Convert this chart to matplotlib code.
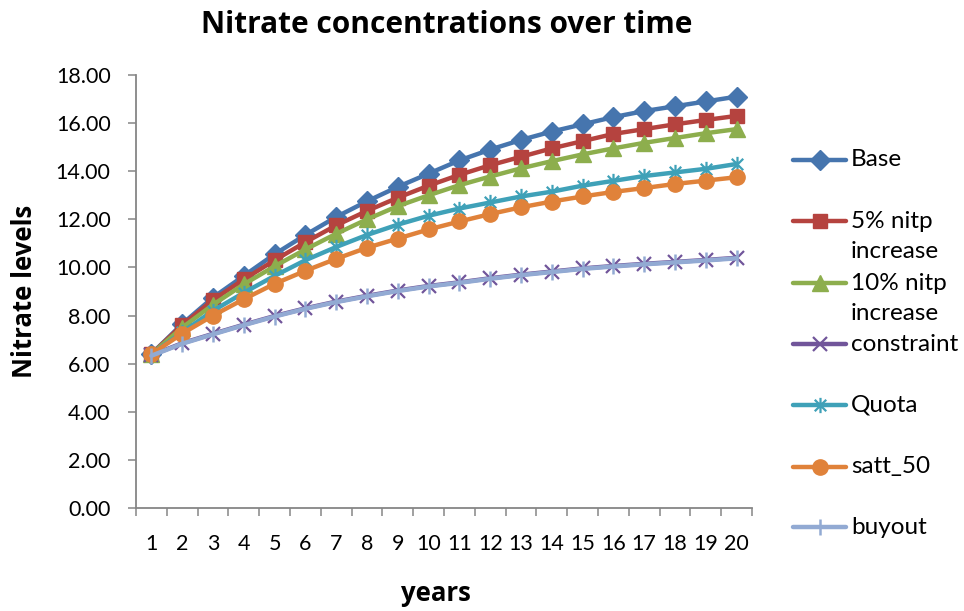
import numpy as np
import matplotlib
matplotlib.use("Agg")
import matplotlib.pyplot as plt
from matplotlib.lines import Line2D
from matplotlib.path import Path

# ---------------- data ----------------
years = list(range(1, 21))
base = [6.40, 7.65, 8.75, 9.65, 10.55, 11.35, 12.10, 12.75, 13.35, 13.90,
        14.45, 14.90, 15.30, 15.65, 15.95, 16.25, 16.50, 16.70, 16.90, 17.10]
nitp5 = [6.40, 7.60, 8.65, 9.50, 10.30, 11.05, 11.75, 12.35, 12.90, 13.40,
         13.85, 14.25, 14.60, 14.95, 15.25, 15.55, 15.75, 15.95, 16.13, 16.30]
nitp10 = [6.40, 7.50, 8.45, 9.30, 10.05, 10.75, 11.40, 12.00, 12.55, 13.00,
          13.42, 13.78, 14.12, 14.42, 14.70, 14.95, 15.18, 15.38, 15.58, 15.75]
constraint = [6.35, 6.85, 7.24, 7.62, 7.98, 8.30, 8.58, 8.82, 9.04, 9.23,
              9.38, 9.55, 9.70, 9.83, 9.96, 10.06, 10.15, 10.23, 10.31, 10.40]
quota = [6.40, 7.30, 8.20, 8.95, 9.65, 10.30, 10.85, 11.35, 11.78, 12.15,
         12.45, 12.70, 12.95, 13.15, 13.40, 13.60, 13.80, 13.95, 14.10, 14.30]
satt_50 = [6.40, 7.25, 8.00, 8.68, 9.32, 9.86, 10.36, 10.82, 11.20, 11.58,
           11.91, 12.22, 12.50, 12.74, 12.95, 13.14, 13.30, 13.47, 13.61, 13.75]
buyout = [6.33, 6.83, 7.22, 7.60, 7.96, 8.28, 8.56, 8.80, 9.02, 9.21,
          9.36, 9.53, 9.68, 9.81, 9.94, 10.04, 10.13, 10.21, 10.29, 10.38]

series_names = ["Base", "5% nitp\nincrease", "10% nitp\nincrease", "constraint",
                "Quota", "satt_50", "buyout"]
yticks = [0, 2, 4, 6, 8, 10, 12, 14, 16, 18]
title = "Nitrate concentrations over time"
xlabel = "years"
ylabel = "Nitrate levels"

# ---------------- style ----------------
plt.rcParams['font.family'] = ['Lato', 'DejaVu Sans']
bold_family = ['Open Sans', 'DejaVu Sans']

# Excel-like star marker: vertical line + two diagonals
star = Path([(0, -1), (0, 1), (-0.75, -0.75), (0.75, 0.75), (-0.75, 0.75), (0.75, -0.75)],
            [Path.MOVETO, Path.LINETO, Path.MOVETO, Path.LINETO, Path.MOVETO, Path.LINETO])

styles = [
    dict(color="#4675AE", marker="D", ms=10, mec="#4675AE", mfc="#4675AE", mew=1),
    dict(color="#B5433F", marker="s", ms=9.5, mec="#B5433F", mfc="#B5433F", mew=1),
    dict(color="#8DAE4D", marker="^", ms=11, mec="#8DAE4D", mfc="#8DAE4D", mew=1),
    dict(color="#71559A", marker="x", ms=10, mec="#71559A", mfc="none", mew=1.6),
    dict(color="#3FA1B8", marker=star, ms=11, mec="#3FA1B8", mfc="none", mew=1.6),
    dict(color="#E0823A", marker="o", ms=11, mec="#E0823A", mfc="#E0823A", mew=1),
    dict(color="#92AAD3", marker="|", ms=11.5, mec="#92AAD3", mfc="none", mew=1.8),
]
data = [base, nitp5, nitp10, constraint, quota, satt_50, buyout]

W, H = 964, 611
fig = plt.figure(figsize=(W / 100, H / 100), dpi=100)
fig.patch.set_facecolor("white")
ax = fig.add_axes([136 / W, 1 - 508 / H, (752 - 136) / W, (508 - 75) / H])

for vals, st in zip(data, styles):
    ax.plot(years, vals, lw=3.2, solid_capstyle="round", clip_on=False, zorder=3, **st)

ax.set_xlim(0.5, 20.5)
ax.set_ylim(0, 18)
ax.set_yticks(yticks)
ax.set_yticklabels([f"{v:.2f}" for v in yticks])
ax.set_xticks(years)
ax.set_xticklabels([str(y) for y in years])
ax.set_xticks(np.arange(0.5, 21, 1), minor=True)

gray = "#868686"
for s in ["top", "right"]:
    ax.spines[s].set_visible(False)
for s in ["left", "bottom"]:
    ax.spines[s].set_color(gray)
    ax.spines[s].set_linewidth(1.3)
ax.tick_params(axis="y", which="major", direction="out", length=5.8, width=1.1,
               color=gray, pad=12.5, labelsize=15.5, labelcolor="black")
ax.tick_params(axis="x", which="major", length=0, pad=19, labelsize=15.5, labelcolor="black")
ax.tick_params(axis="x", which="minor", direction="out", length=5.8, width=1.1, color=gray)

fig.text(447 / W, 1 - 33 / H, title, ha="center", va="baseline", fontsize=21.5,
         fontweight="bold", family=bold_family)
fig.text(25 / W, 1 - 291 / H, ylabel, ha="center", va="center", rotation=90,
         fontsize=18.5, fontweight="bold", family=bold_family)
fig.text(436 / W, 1 - 601 / H, xlabel, ha="center", va="baseline", fontsize=18.5,
         fontweight="bold", family=bold_family)

# ---------------- legend (manual, Excel-like wrapping) ----------------
leg_y = [160, 221, 283, 344, 405, 467, 527]
x0, x1 = 793, 846
leg_fs = 17.5
for name, st, ypx in zip(series_names, styles, leg_y):
    yf = 1 - ypx / H
    ln = Line2D([x0 / W, (x0 + x1) / 2 / W, x1 / W], [yf, yf, yf], transform=fig.transFigure,
                lw=3.2, solid_capstyle="round", markevery=[1], **st)
    fig.add_artist(ln)
    if "\n" in name:
        first, second = name.split("\n")
        fig.text(851 / W, yf, first, ha="left", va="center", fontsize=leg_fs)
        fig.text(851 / W, 1 - (ypx + 31) / H, second, ha="left", va="center", fontsize=leg_fs)
    else:
        fig.text(851 / W, yf, name, ha="left", va="center", fontsize=leg_fs)

fig.savefig("out.png", dpi=100, facecolor="white")
